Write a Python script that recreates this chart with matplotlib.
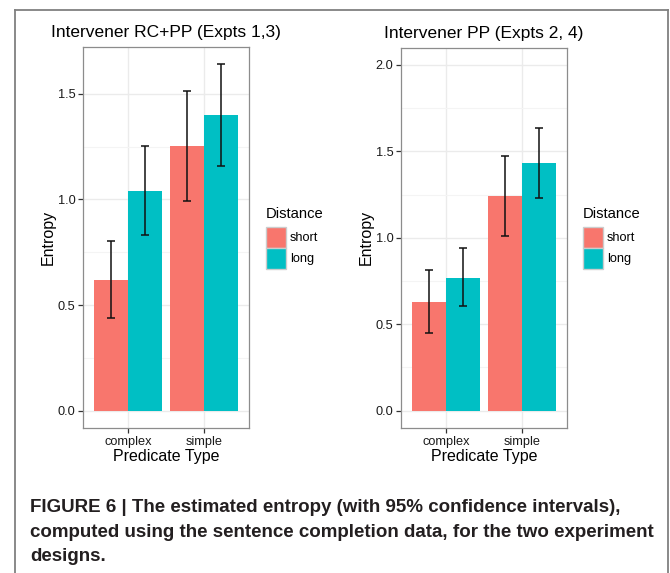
import matplotlib
matplotlib.use("Agg")
import matplotlib.pyplot as plt
from matplotlib.patches import Patch
from matplotlib.lines import Line2D
from matplotlib import font_manager
import numpy as np

# ---------------- data ----------------
categories = ["complex", "simple"]
groups = ["short", "long"]
colors = {"short": "#F8766D", "long": "#00BFC4"}

# Left panel: Intervener RC+PP (Expts 1,3)
left_short = [0.62, 1.255]
left_short_lo = [0.44, 0.995]
left_short_hi = [0.805, 1.515]
left_long = [1.04, 1.40]
left_long_lo = [0.83, 1.16]
left_long_hi = [1.255, 1.64]

# Right panel: Intervener PP (Expts 2, 4)
right_short = [0.63, 1.24]
right_short_lo = [0.45, 1.01]
right_short_hi = [0.815, 1.47]
right_long = [0.77, 1.435]
right_long_lo = [0.605, 1.23]
right_long_hi = [0.94, 1.635]

left_ticks = [0.0, 0.5, 1.0, 1.5]
right_ticks = [0.0, 0.5, 1.0, 1.5, 2.0]

titles = ["Intervener RC+PP (Expts 1,3)", "Intervener PP (Expts 2, 4)"]
caption = ["FIGURE 6 | The estimated entropy (with 95% confidence intervals),",
           "computed using the sentence completion data, for the two experiment",
           "designs."]

# ---------------- style ----------------
plt.rcParams['font.family'] = ['Liberation Sans', 'DejaVu Sans']
W, H = 670, 573
fig = plt.figure(figsize=(W / 100, H / 100), dpi=100)
fig.patch.set_facecolor("white")


def px_rect(x0, y0, x1, y1):
    return [x0 / W, 1 - y1 / H, (x1 - x0) / W, (y1 - y0) / H]


def draw_panel(rect, short, s_lo, s_hi, long_, l_lo, l_hi, ticks, ylim, title, legend_xy):
    ax = fig.add_axes(rect)
    x = np.arange(1, len(categories) + 1)
    bw = 0.45
    series = [("short", short, s_lo, s_hi, -bw / 2), ("long", long_, l_lo, l_hi, bw / 2)]
    for name, vals, lo, hi, off in series:
        vals = np.array(vals)
        lo = np.array(lo)
        hi = np.array(hi)
        ax.bar(x + off, vals, width=bw, color=colors[name], zorder=3, linewidth=0)
        ax.errorbar(x + off, vals, yerr=[vals - lo, hi - vals], fmt='none',
                    ecolor='#111111', elinewidth=1.1, capsize=3.0, capthick=1.1, zorder=4)
    ax.set_xlim(0.4, 2.6)
    ax.set_ylim(*ylim)
    ax.set_xticks(x)
    ax.set_xticklabels(categories)
    ax.set_yticks(ticks)
    ax.set_yticklabels([f"{t:.1f}" for t in ticks])
    minor = [(a + b) / 2 for a, b in zip(ticks[:-1], ticks[1:])]
    ax.set_yticks(minor, minor=True)
    ax.tick_params(axis='y', which='minor', length=0)
    ax.grid(True, which='major', color='#EBEBEB', linewidth=1.0, zorder=0)
    ax.grid(True, which='minor', axis='y', color='#F4F4F4', linewidth=0.8, zorder=0)
    ax.set_axisbelow(True)
    for sp in ax.spines.values():
        sp.set_color('#8C8C8C')
        sp.set_linewidth(0.9)
    ax.tick_params(axis='both', which='major', length=3.5, width=0.9, color='#333333',
                   labelsize=9.2, labelcolor='#1a1a1a', pad=2)
    ax.set_ylabel("Entropy", fontsize=11.5, labelpad=1.5)
    ax.set_xlabel("Predicate Type", fontsize=11.5, labelpad=1)
    ax.set_title(title, fontsize=12.5, pad=7)
    handles = [Patch(facecolor=colors[g], edgecolor='#CCCCCC', linewidth=1.0) for g in groups]
    leg = ax.legend(handles, groups, title="Distance", loc='upper left',
                    bbox_to_anchor=(legend_xy[0] / W, 1 - legend_xy[1] / H),
                    bbox_transform=fig.transFigure, frameon=False, fontsize=9.2,
                    title_fontsize=10.6, handlelength=1.56, handleheight=2.15,
                    labelspacing=0.0, handletextpad=0.3, borderpad=0, borderaxespad=0)
    leg._legend_box.align = "left"
    leg._legend_box.sep = 4
    return ax


y_left_top = max(left_short_hi + left_long_hi)
draw_panel(px_rect(83, 47, 249, 428), left_short, left_short_lo, left_short_hi,
           left_long, left_long_lo, left_long_hi, left_ticks,
           (-0.05 * y_left_top, 1.05 * y_left_top), titles[0], (266, 207))
draw_panel(px_rect(401, 47.5, 567, 428), right_short, right_short_lo, right_short_hi,
           right_long, right_long_lo, right_long_hi, right_ticks,
           (-0.1, 2.1), titles[1], (583, 207))

# outer frame
fc = '#808080'
for xs, ys in [((15, 15), (10, H + 5)), ((15, 668), (10, 10)), ((668, 668), (10, H + 5))]:
    fig.add_artist(Line2D([v / W for v in xs], [1 - v / H for v in ys],
                          color=fc, linewidth=1.3, transform=fig.transFigure))

# caption
names = {f.name for f in font_manager.fontManager.ttflist}
cap_font = 'Liberation Sans Narrow' if 'Liberation Sans Narrow' in names else 'Liberation Sans'
renderer = fig.canvas.get_renderer()
probe = fig.text(0, 0, caption[1], fontsize=12, fontweight='bold', family=cap_font)
wpx = probe.get_window_extent(renderer).width
probe.remove()
cap_size = 12 * 622 / wpx
for line, yb in zip(caption, [512, 537, 561]):
    fig.text(30 / W, 1 - yb / H, line, fontsize=cap_size, fontweight='bold',
             family=cap_font, color='#231F20', va='baseline', ha='left')

fig.savefig("out.png", dpi=100, facecolor='white')
